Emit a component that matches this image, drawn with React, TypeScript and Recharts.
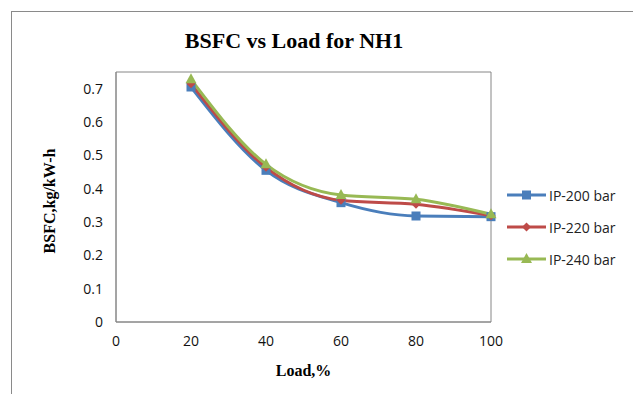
import { LineChart, Line, XAxis, YAxis, ReferenceArea, Label } from 'recharts';

const loads = [20, 40, 60, 80, 100];
const ip200 = [0.705, 0.455, 0.358, 0.318, 0.316];
const ip220 = [0.715, 0.464, 0.365, 0.353, 0.319];
const ip240 = [0.728, 0.473, 0.381, 0.368, 0.323];
const xTicks = [0, 20, 40, 60, 80, 100];
const yTicks = [0, 0.1, 0.2, 0.3, 0.4, 0.5, 0.6, 0.7];

const seriesNames = ['IP-200 bar', 'IP-220 bar', 'IP-240 bar'];
const seriesColors = ['#4a7ebb', '#be4b48', '#98b954'];

const data = loads.map((load, i) => ({
  load,
  a: ip200[i],
  b: ip220[i],
  c: ip240[i],
}));

const serif = '"Liberation Serif", "Times New Roman", serif';
const sans = '"Open Sans", "Liberation Sans", sans-serif';

function Marker({ kind, x, y, color }: { kind: number; x: number; y: number; color: string }) {
  if (kind === 0) return <rect x={x - 4.5} y={y - 4.5} width={9} height={9} fill={color} />;
  if (kind === 1) return <polygon points={`${x},${y - 4.5} ${x + 4.5},${y} ${x},${y + 4.5} ${x - 4.5},${y}`} fill={color} />;
  return <polygon points={`${x},${y - 6} ${x + 5.5},${y + 4} ${x - 5.5},${y + 4}`} fill={color} />;
}

function makeDot(kind: number, color: string) {
  return (props: any) => {
    const { cx, cy, index } = props;
    if (cx == null || cy == null) return <g key={index} />;
    return <Marker key={index} kind={kind} x={cx} y={cy} color={color} />;
  };
}

function LegendBox() {
  return (
    <div style={{ position: 'absolute', left: 506, top: 179, fontFamily: sans, fontSize: 14, color: '#222' }}>
      {seriesNames.map((name, i) => (
        <div key={name} style={{ display: 'flex', alignItems: 'center', height: 32 }}>
          <svg width={42} height={12}>
            <line x1={1} y1={6} x2={40} y2={6} stroke={seriesColors[i]} strokeWidth={3} />
            <Marker kind={i} x={20.5} y={6} color={seriesColors[i]} />
          </svg>
          <span style={{ marginLeft: 1 }}>{name}</span>
        </div>
      ))}
    </div>
  );
}

export default function App() {
  const tickStyle = { fontFamily: sans, fontSize: 14, fill: '#111' };
  return (
    <div style={{ position: 'absolute', left: 0, top: 0, width: 633, height: 394, background: '#fff', overflow: 'hidden' }}>
      <div
        style={{
          position: 'absolute',
          left: 11,
          top: 11,
          width: 640,
          height: 400,
          borderLeft: '1px solid #8a8a8a',
          borderTop: '1px solid #8a8a8a',
        }}
      />
      <div
        style={{
          position: 'absolute',
          left: 0,
          width: 588,
          top: 28,
          textAlign: 'center',
          fontFamily: serif,
          fontWeight: 'bold',
          fontSize: 22,
        }}
      >
        BSFC vs Load for NH1
      </div>
      <div style={{ position: 'absolute', left: 0, top: 0 }}>
        <LineChart width={633} height={394} data={data} margin={{ top: 72, right: 142, bottom: 42, left: 56 }}>
          <XAxis
            dataKey="load"
            type="number"
            domain={[0, 100]}
            ticks={xTicks}
            tick={tickStyle}
            tickLine={false}
            axisLine={{ stroke: '#868686' }}
            tickMargin={8}
            height={30}
          >
            <Label
              content={(p: any) => (
                <text
                  x={p.viewBox.x + p.viewBox.width / 2}
                  y={p.viewBox.y + 54}
                  textAnchor="middle"
                  fontFamily={serif}
                  fontWeight="bold"
                  fontSize={16}
                >
                  Load,%
                </text>
              )}
            />
          </XAxis>
          <YAxis
            type="number"
            domain={[0, 0.75]}
            ticks={yTicks}
            tick={tickStyle}
            tickLine={false}
            axisLine={{ stroke: '#868686' }}
            tickMargin={7}
            width={60}
            interval={0}
          >
            <Label
              content={(p: any) => {
                const x = 55;
                const y = p.viewBox.y + p.viewBox.height / 2 + 4;
                return (
                  <text
                    x={x}
                    y={y}
                    transform={`rotate(-90, ${x}, ${y})`}
                    textAnchor="middle"
                    fontFamily={serif}
                    fontWeight="bold"
                    fontSize={16}
                  >
                    BSFC,kg/kW-h
                  </text>
                );
              }}
            />
          </YAxis>
          <ReferenceArea x1={0} x2={100} y1={0} y2={0.75} fill="none" stroke="#868686" strokeWidth={1} ifOverflow="visible" />
          <Line type="monotone" dataKey="a" stroke={seriesColors[0]} strokeWidth={3} dot={makeDot(0, seriesColors[0])} isAnimationActive={false} />
          <Line type="monotone" dataKey="b" stroke={seriesColors[1]} strokeWidth={3} dot={makeDot(1, seriesColors[1])} isAnimationActive={false} />
          <Line type="monotone" dataKey="c" stroke={seriesColors[2]} strokeWidth={3} dot={makeDot(2, seriesColors[2])} isAnimationActive={false} />
        </LineChart>
      </div>
      <LegendBox />
    </div>
  );
}
